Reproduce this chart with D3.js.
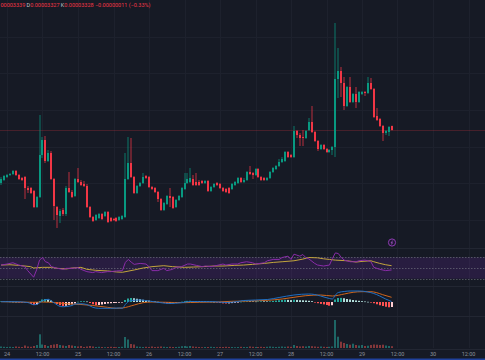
<!DOCTYPE html>
<html>
<head>
<meta charset="utf-8">
<script src="https://cdn.jsdelivr.net/npm/d3@7"></script>
<style>
  html, body { margin: 0; padding: 0; background: #161a25; overflow: hidden; }
  svg { display: block; }
</style>
</head>
<body>
<script>
const W = 485, H = 360;

// hourly candles, prices in 1e-8 units (3328 -> 0.00003328)
const startHour = -2; // first candle = 23rd 22:00, hour 0 = 24th 00:00
const open = [3195.5,3203,3210.5,3215.5,3218,3225.5,3215.5,3208,3210.5,3183,3183,3175.5,3135.5,3160.5,3265.5,3303,3250.5,3270.5,3205.5,3135.5,
  3113,3128,3118,3183,3173,3163,3205.5,3198,3193,3188,3135.5,3110.5,3103,3108,3118,3113,3123,3108,3105.5,3108,
  3103,3105.5,3110.5,3205.5,3245.5,3210.5,3170.5,3188,3195.5,3213,3210.5,3185.5,3183,3173,3155.5,3128,3143,3163,3160.5,3135.5,
  3153,3160.5,3180.5,3195.5,3198,3205.5,3198,3198,3200.5,3195.5,3200.5,3175.5,3185.5,3195.5,3193,3183,3180.5,3183,3180.5,3190.5,
  3195.5,3208,3198,3203,3223,3220.5,3215.5,3230.5,3210.5,3208,3203,3208,3223,3230.5,3238,3248,3250.5,3273,3265.5,3260.5,
  3325.5,3315.5,3310.5,3308,3328,3348,3323,3300.5,3280.5,3290.5,3280.5,3273,3278,3285.5,3455.5,3475.5,3445.5,3388,3435.5,3398,
  3418,3398,3418,3423,3420.5,3445.5,3430.5,3363,3355.5,3338,3320.5,3323,3339];
const high = [3210.5,3215.5,3218,3220.5,3228,3228,3218,3210.5,3213,3188,3185.5,3178,3163,3365.5,3310.5,3313,3278,3275.5,3208,3138,
  3130.5,3133,3188,3223,3178,3208,3233,3203,3200.5,3193,3138,3113,3118,3120.5,3120.5,3125.5,3125.5,3110.5,3108,3110.5,
  3113,3115.5,3270.5,3310.5,3308,3213,3190.5,3198,3220.5,3215.5,3213,3188,3185.5,3175.5,3158,3148,3165.5,3183,3163,3155.5,
  3165.5,3185.5,3220.5,3220.5,3233,3215.5,3220.5,3203,3203,3203,3203,3188,3195.5,3198,3195.5,3185.5,3183,3185.5,3195.5,3200.5,
  3210.5,3210.5,3208,3225.5,3238,3223,3233,3233,3213,3210.5,3210.5,3225.5,3235.5,3240.5,3255.5,3260.5,3275.5,3275.5,3268,3338,
  3328,3320.5,3328,3328,3358,3388,3325.5,3303,3293,3293,3283,3280.5,3288,3595.5,3533,3485.5,3460.5,3438,3460.5,3420.5,
  3435.5,3425.5,3425.5,3425.5,3460.5,3458,3433,3383,3358,3340.5,3328,3338,3339];
const low = [3190.5,3200.5,3208,3213,3215.5,3213,3203,3200.5,3155.5,3170.5,3168,3133,3133,3158,3258,3245.5,3248,3203,3103,3083,
  3095.5,3113,3113,3170.5,3158,3160.5,3195.5,3188,3185.5,3133,3108,3098,3100.5,3105.5,3103,3110.5,3095.5,3098,3100.5,3098,
  3100.5,3103,3108,3203,3208,3168,3168,3185.5,3193,3205.5,3183,3178,3170.5,3148,3125.5,3125.5,3140.5,3135.5,3130.5,3133,
  3150.5,3158,3178,3193,3195.5,3188,3188,3188,3193,3193,3173,3173,3183,3188,3180.5,3173,3170.5,3168,3178,3188,
  3193,3195.5,3195.5,3200.5,3215.5,3205.5,3213,3208,3200.5,3200.5,3200.5,3205.5,3220.5,3228,3235.5,3245.5,3248,3258,3258,3258,
  3308,3288,3288,3305.5,3325.5,3320.5,3298,3275.5,3278,3278,3270.5,3270.5,3265.5,3260.5,3408,3410.5,3378,3385.5,3395.5,3395.5,
  3383,3395.5,3415.5,3413,3418,3428,3358,3350.5,3335.5,3300.5,3315.5,3313,3327];
const close = [3205.5,3213,3215.5,3218,3225.5,3215.5,3205.5,3203,3183,3178,3170.5,3135.5,3160.5,3265.5,3303,3250.5,3270.5,3205.5,3138,3115.5,
  3125.5,3118,3183,3173,3160.5,3205.5,3198,3190.5,3188,3135.5,3110.5,3100.5,3115.5,3118,3105.5,3123,3098,3100.5,3103,3100.5,
  3110.5,3113,3205.5,3245.5,3210.5,3170.5,3188,3195.5,3210.5,3208,3185.5,3180.5,3173,3155.5,3128,3145.5,3163,3158,3133,3153,
  3163,3183,3195.5,3205.5,3208,3190.5,3190.5,3190.5,3195.5,3200.5,3175.5,3185.5,3193,3190.5,3183,3175.5,3173,3170.5,3193,3198,
  3208,3198,3203,3223,3218,3215.5,3230.5,3210.5,3203,3203,3208,3223,3233,3238,3248,3255.5,3273,3260.5,3260.5,3325.5,
  3315.5,3308,3308,3325.5,3348,3323,3300.5,3280.5,3290.5,3280.5,3273,3278,3285.5,3455.5,3475.5,3445.5,3388,3435.5,3398,3418,
  3398,3423,3423,3420.5,3445.5,3430.5,3360.5,3353,3338,3320.5,3325.5,3335.5,3328];
const volume = [0.15,0.12,0.1,0.12,0.1,0.15,0.12,0.1,0.25,0.15,0.12,0.2,0.3,1.37,
  0.35,0.3,0.2,0.3,0.35,0.4,0.3,0.25,0.2,0.3,0.25,0.2,0.15,0.2,0.1,0.15,0.2,0.15,
  0.1,0.12,0.1,0.08,0.1,0.12,0.1,0.08,0.1,0.12,
  1.1,0.85,0.4,0.35,0.15,
  0.12,0.1,0.12,0.1,0.15,0.1,0.12,0.15,0.12,0.1,0.12,0.1,0.1,0.12,
  0.18,0.2,0.15,0.2,0.15,0.12,
  0.1,0.08,0.1,0.1,0.12,0.1,0.08,0.1,0.1,0.12,0.1,0.1,0.08,0.1,0.12,0.1,0.1,0.15,0.12,0.1,0.1,0.12,0.1,0.12,0.15,0.12,0.1,0.12,0.15,0.12,0.15,0.12,
  0.3,
  0.2,0.15,0.18,0.15,0.2,0.18,0.15,0.12,0.15,0.12,0.1,0.12,0.15,
  2.8,1.13,0.63,0.5,0.4,0.33,0.43,0.3,0.25,0.3,0.2,0.23,0.3,0.35,0.33,0.3,0.33,0.25,0.2,0.18];

// RSI(14) and its moving average, read at candle indices
const rsiIdx = [0,2,4,6,8,9,11,12,13,14,15,16,17,19,21,22,24,26,27,29,31,32,34,36,37,39,41,42,43,44,45,47,49,50,51,53,55,56,58,59,
  61,63,64,66,68,69,71,73,75,76,78,80,81,83,85,86,89,90,92,94,95,97,98,99,100,101,102,103,104,106,107,109,111,112,113,114,115,116,
  118,120,121,123,124,125,126,128,130,132];
const rsiVal = [55.5,57.4,59.8,55.5,52.5,45.1,32.8,46.3,64.7,69.6,61.7,59.8,52.5,49.4,47.5,49.4,49.4,50.6,47.5,43.2,41.4,43.2,41.4,43.2,43.2,44.5,45.1,60.4,66,61,56.8,58.6,57.4,52.5,45.1,45.1,49.4,45.1,47.5,51.2,
  52.5,57.4,57.4,54.9,52.5,53.7,52.5,54.9,57.4,55.5,57.4,57.4,59.8,61.7,59.8,57.4,59.8,63.5,66,66,69.6,72.1,66,75.8,74,72.1,75.2,69.6,67.2,58.6,55.5,53.7,55.5,67.8,78.2,77,69.6,64.7,
  61.7,61.7,63.5,64.7,63.5,61.7,51.2,47.5,45.1,46.3];
const maIdx = [0,3,6,10,11,14,17,19,22,24,27,29,32,36,39,41,45,48,51,55,58,62,65,68,72,75,79,82,85,89,92,95,99,102,104,107,109,111,113,117,120,122,125,126,128,130,132];
const maVal = [55.5,56.1,54.9,52.5,50,51.2,51.2,49.4,48.2,50,51.2,47.5,45.7,44.5,42.6,42,46.3,50,52.5,54.3,52.5,51.2,51.8,52.5,53.7,53.7,54.9,55.5,56.8,58.6,60.4,61.7,63.5,66.6,69.6,69,67.2,66,64.7,63.5,61.1,62.3,63.5,61.7,58.6,56.1,54.3];
const rsiLevels = [70, 50, 30];

// MACD (12,26,9), 1e-8 units
const macdIdx = [0,5,9,11,12,14,16,17,19,20,21,22,24,25,27,29,31,33,37,40,41,42,43,44,47,50,54,57,61,64,67,72,76,80,82,90,94,99,104,106,108,111,112,113,114,116,118,121,124,126,128,130,132];
const macdVal = [0.6,0.6,-1,-5.5,-5,2.6,5.4,2,-6,-9,-9.5,-9,-7,-4,-3.5,-5,-10.6,-12.6,-12.6,-12,-12.5,-5,1,3,4,2,-1.4,-3,-1.4,1,0.8,0.6,-1,1,3,5,9,14,16,15,12,7,6,14,19,21,22,22,20,17,12,6,1];
const signalIdx = [0,5,11,14,18,22,27,31,36,39,41,45,48,51,56,61,67,73,78,84,90,95,99,103,108,112,116,119,122,125,127,129,132];
const signalVal = [0.6,0,-0.6,0,-1,-3.4,-5,-7,-10.6,-12.6,-12,-6,-1.4,0,-0.6,-1.4,-0.6,0,1.4,2,3.4,6,9.4,12.6,14,12,16,19.4,20.6,20.6,18.6,14.6,9.4];
const hist = [1.2,1.4,1.2,1,0.6,0.4,-0.4,-0.8,-1,-2,-4,-6,-5,2,5,6,5,3,-1,-4,
  -6.5,-8,-7.5,-6,-4.5,-3,0.5,1.5,1.5,1,-2,-4.5,-6.5,-6,-5,-4,-3,-2.5,-2,-1.8,
  -1.5,-1,4,7,8,7.5,6.5,5.5,4.5,3.5,2.8,2,1.2,0.4,-1,-2,-3,-2.8,-2.5,-2,
  -1,0.6,1.5,2.2,2.4,2,1.8,1.6,1.5,1.4,1.2,0.8,0.3,-1,-2,-2.8,-3,-2.8,-2.2,-1.5,
  -0.6,0.5,1,1.4,1.3,1.2,1,1.2,1.4,1.3,1.2,1.4,2,2.8,3.5,4,4.5,4.2,3.8,4.6,
  4.2,3.6,3.4,3,2.4,1.6,-0.8,-2.4,-3.8,-4.8,-6,-7.4,-6.5,5,8,8.2,7.5,6,5,4,
  3.2,2.4,1.6,1,0.4,-0.6,-2.5,-4.5,-6.5,-8,-9.5,-10.6,-10];

const priceGrid = [3560.5, 3470.5, 3378, 3285.5, 3195.5, 3103];
const tickHours = [0,12,24,36,48,60,72,84,96,108,120,132,144,156];
const tickLabels = ["24","12:00","25","12:00","26","12:00","27","12:00","28","12:00","29","12:00","30","12:00"];

const UP = "#089981", DOWN = "#f23645";

const x = d3.scaleLinear().domain([0, 144]).range([7, 433]);
const yPrice = d3.scaleLinear().domain([3035.5, 3653]).range([247, 0]);
const yRsi = d3.scaleLinear().domain([30, 70]).range([278.7, 257.3]);
const yMacd = d3.scaleLinear().domain([-28, 28]).range([316, 288]);
const yVol = d3.scaleLinear().domain([0, 3.1]).range([348, 317]);

const candles = open.map((o, i) => ({
  i, o, h: high[i], l: low[i], c: close[i], v: volume[i],
  cx: Math.round(x(startHour + i)),
}));
const cxAt = (i) => x(startHour + i);

const svg = d3.select("body").append("svg")
  .attr("width", W).attr("height", H)
  .style("font-family", "Roboto, 'Liberation Sans', sans-serif");

svg.append("rect").attr("width", W).attr("height", H).attr("fill", "#161a25");

// grid
svg.append("g").selectAll("line").data(tickHours).join("line")
  .attr("x1", (d) => Math.round(x(d)) + 0.5).attr("x2", (d) => Math.round(x(d)) + 0.5)
  .attr("y1", 0).attr("y2", 348)
  .attr("stroke", "#1d212d");
svg.append("g").selectAll("line").data(priceGrid).join("line")
  .attr("x1", 0).attr("x2", W)
  .attr("y1", (d) => Math.round(yPrice(d)) + 0.5).attr("y2", (d) => Math.round(yPrice(d)) + 0.5)
  .attr("stroke", "#1d212d");

// pane separators
svg.append("g").selectAll("line").data([248, 286, 316, 349]).join("line")
  .attr("x1", 0).attr("x2", W)
  .attr("y1", (d) => d + 0.5).attr("y2", (d) => d + 0.5)
  .attr("stroke", "#222632");

// last price line
svg.append("line")
  .attr("x1", 0).attr("x2", W)
  .attr("y1", Math.round(yPrice(close[close.length - 1])) + 0.5)
  .attr("y2", Math.round(yPrice(close[close.length - 1])) + 0.5)
  .attr("stroke", DOWN).attr("stroke-opacity", 0.22);

// candles
const cg = svg.append("g");
cg.selectAll(".wick").data(candles).join("rect").attr("class", "wick")
  .attr("x", (d) => d.cx - 0.5).attr("width", 1)
  .attr("y", (d) => yPrice(d.h))
  .attr("height", (d) => Math.max(1, yPrice(d.l) - yPrice(d.h)))
  .attr("fill", (d) => (d.c >= d.o ? UP : DOWN))
  .attr("fill-opacity", 0.75);
cg.selectAll(".body").data(candles).join("rect").attr("class", "body")
  .attr("x", (d) => d.cx - 1).attr("width", 2)
  .attr("y", (d) => Math.round(yPrice(Math.max(d.o, d.c))))
  .attr("height", (d) => Math.max(1, Math.round(yPrice(Math.min(d.o, d.c))) - Math.round(yPrice(Math.max(d.o, d.c)))))
  .attr("fill", (d) => (d.c >= d.o ? UP : DOWN));

// event marker
const mk = svg.append("g").attr("transform", `translate(${Math.round(cxAt(132))},242.5)`);
mk.append("circle").attr("r", 3.6).attr("fill", "#1c1730").attr("stroke", "#9b3fc0").attr("stroke-width", 0.9);
mk.append("path").attr("d", "M0.8,-2 L-1,0.4 L0.6,0.2 L-0.6,2").attr("fill", "none")
  .attr("stroke", "#b05ad4").attr("stroke-width", 0.7);

// RSI pane
svg.append("rect")
  .attr("x", 0).attr("width", W)
  .attr("y", yRsi(70)).attr("height", yRsi(30) - yRsi(70))
  .attr("fill", "#8a2fd0").attr("fill-opacity", 0.16);
svg.append("g").selectAll("line").data(rsiLevels).join("line")
  .attr("x1", 0).attr("x2", W)
  .attr("y1", (d) => Math.round(yRsi(d)) + 0.5).attr("y2", (d) => Math.round(yRsi(d)) + 0.5)
  .attr("stroke", "#787b86").attr("stroke-opacity", 0.6)
  .attr("stroke-dasharray", "1.5,1.5");

const rsiLine = d3.line().x((d) => cxAt(d[0])).y((d) => yRsi(d[1]));
svg.append("path").datum(maIdx.map((d, k) => [d, maVal[k]]))
  .attr("d", rsiLine).attr("fill", "none").attr("stroke", "#c2a53c").attr("stroke-width", 1);
svg.append("path").datum(rsiIdx.map((d, k) => [d, rsiVal[k]]))
  .attr("d", rsiLine).attr("fill", "none").attr("stroke", "#8a2ca8").attr("stroke-width", 1);

// MACD pane
svg.append("g").selectAll("rect").data(hist).join("rect")
  .attr("x", (d, i) => Math.round(cxAt(i)) - 1).attr("width", 2)
  .attr("y", (d) => Math.min(yMacd(0), yMacd(d)))
  .attr("height", (d) => Math.max(0.6, Math.abs(yMacd(d) - yMacd(0))))
  .attr("fill", (d, i) => {
    const prev = i > 0 ? hist[i - 1] : d;
    if (d >= 0) return d >= prev ? "#26a69a" : "#b2dfdb";
    return d <= prev ? "#ff5252" : "#ffcdd2";
  });
const macdLine = d3.line().x((d) => cxAt(d[0])).y((d) => yMacd(d[1])).curve(d3.curveMonotoneX);
svg.append("path").datum(signalIdx.map((d, k) => [d, signalVal[k]]))
  .attr("d", macdLine).attr("fill", "none").attr("stroke", "#d0661c").attr("stroke-width", 1);
svg.append("path").datum(macdIdx.map((d, k) => [d, macdVal[k]]))
  .attr("d", macdLine).attr("fill", "none").attr("stroke", "#1f6fc4").attr("stroke-width", 1);

// volume pane
svg.append("g").selectAll("rect").data(candles).join("rect")
  .attr("x", (d) => d.cx - 1).attr("width", 2)
  .attr("y", (d) => yVol(d.v))
  .attr("height", (d) => yVol(0) - yVol(d.v))
  .attr("fill", (d) => (d.c >= d.o ? "rgba(38,166,154,0.55)" : "rgba(239,83,80,0.5)"));

// time axis
svg.append("g").selectAll("text").data(tickHours).join("text")
  .attr("x", (d) => x(d)).attr("y", 356)
  .attr("text-anchor", "middle")
  .attr("font-size", 5.5)
  .attr("fill", "#8e919a")
  .text((d, k) => tickLabels[k]);
svg.append("rect").attr("x", 0).attr("y", 358.5).attr("width", W).attr("height", 1.5)
  .attr("fill", "#2962ff").attr("fill-opacity", 0.55);

// legend: the visible tail of the OHLC line (the head is off-screen in the reference)
const lastC = close[close.length - 1], chg = lastC - open[open.length - 1];
const fmt = (v) => (v * 1e-8).toFixed(8);
const legend = svg.append("text").attr("x", 0.5).attr("y", 6.6).attr("font-size", 5.5);
const parts = [
  [fmt(high[high.length - 1]).slice(2) + " ", DOWN],
  ["D", "#c3c6ce"], [fmt(low[low.length - 1]) + " ", DOWN],
  ["K", "#c3c6ce"], [fmt(lastC) + " ", DOWN],
  ["\u2212" + fmt(Math.abs(chg)) + " (\u2212" + (Math.abs(chg) / open[open.length - 1] * 100).toFixed(2) + "%)", DOWN],
];
parts.forEach(([t, c]) => legend.append("tspan").attr("fill", c).text(t));
</script>
</body>
</html>
